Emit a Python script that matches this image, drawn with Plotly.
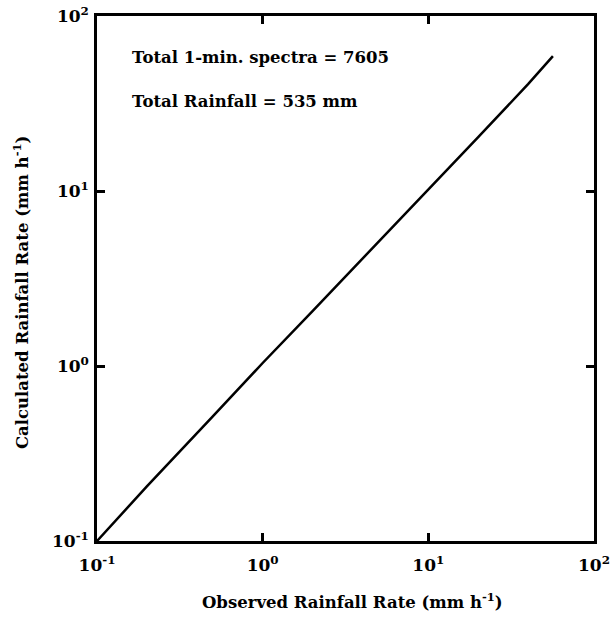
import plotly.graph_objects as go

observed = [0.1, 0.2, 0.5, 1.0, 2.0, 5.0, 10.0, 20.0, 40.0, 56.5]
calculated = [0.1, 0.205, 0.515, 1.04, 2.06, 5.1, 10.1, 20.3, 40.8, 59.0]

tick_vals = [0.1, 1, 10, 100]
tick_text = ["10<sup>-1</sup>", "10<sup>0</sup>", "10<sup>1</sup>", "10<sup>2</sup>"]

x_title = "Observed Rainfall Rate (mm h<sup>-1</sup>)"
y_title = "Calculated Rainfall Rate (mm h<sup>-1</sup>)"
note1 = "Total 1-min. spectra = 7605"
note2 = "Total Rainfall = 535 mm"

font_family = "DejaVu Serif"
fsize = 16.5

fig = go.Figure()
fig.add_trace(go.Scatter(x=observed, y=calculated, mode="lines",
                         line=dict(color="black", width=2.5), showlegend=False))

axis_common = dict(type="log", showgrid=False, zeroline=False, showline=True,
                   linecolor="black", linewidth=2.5, mirror="ticks",
                   ticks="inside", ticklen=8, tickwidth=2.5, tickcolor="black",
                   tickvals=tick_vals, ticktext=tick_text, automargin=False,
                   tickfont=dict(family=font_family, size=17, color="black", weight="bold"))

fig.update_xaxes(range=[-1, 2], ticklabelstandoff=7, **axis_common)
fig.update_yaxes(range=[-1, 2], ticklabelstandoff=2, **axis_common)

txt_font = dict(family=font_family, size=fsize, color="black", weight="bold")

fig.add_annotation(text=x_title, xref="paper", yref="paper", x=0.515, y=-0.114,
                   xanchor="center", yanchor="middle", showarrow=False, font=txt_font)
fig.add_annotation(text=y_title, xref="paper", yref="paper", x=-0.153, y=0.474,
                   xanchor="center", yanchor="middle", showarrow=False, textangle=-90,
                   font=txt_font)
fig.add_annotation(text=note1, xref="paper", yref="paper",
                   x=0.066, y=0.92, xanchor="left", yanchor="middle", showarrow=False,
                   font=txt_font)
fig.add_annotation(text=note2, xref="paper", yref="paper",
                   x=0.066, y=0.838, xanchor="left", yanchor="middle", showarrow=False,
                   font=txt_font)

fig.update_layout(width=611, height=627, margin=dict(l=97, r=17, t=16, b=86),
                  paper_bgcolor="white", plot_bgcolor="white")

fig.write_html("out.html")
